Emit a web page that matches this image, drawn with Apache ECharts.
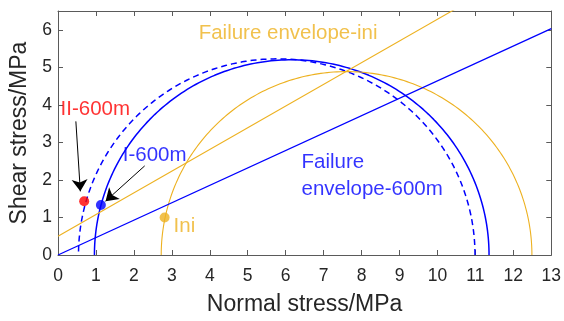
<!DOCTYPE html>
<html>
<head>
<meta charset="utf-8">
<script src="https://cdn.jsdelivr.net/npm/echarts@6/dist/echarts.min.js"></script>
<style>
  html, body { margin: 0; padding: 0; background: #fff; }
  #chart { width: 564px; height: 321px; }
</style>
</head>
<body>
<div id="chart"></div>
<script>
// Mohr circles: minor / major principal stress (MPa)
const circleNames = ['I-600m', 'II-600m', 'Ini'];
const sigma3 = [0.96, 0.54, 2.72];
const sigma1 = [11.36, 10.99, 12.49];

// Failure envelopes: tau = c + sigma * tan(phi)
const envelopeNames = ['Failure envelope-ini', 'Failure envelope-600m'];
const cohesion = [0.5, 0];
const tanPhi = [0.578, 0.464];

// Stress states (normal stress, shear stress)
const pointNames = ['II-600m', 'I-600m', 'Ini'];
const pointSigma = [0.69, 1.13, 2.81];
const pointTau = [1.43, 1.33, 1.0];

// Axis ranges
const xRange = [0, 13];
const yRange = [0, 6.5];

const FONT = '"Liberation Sans", Arial, sans-serif';
const BLUE = '#0000ff';
const ORANGE = '#EDB120';
const RED = '#ff0000';
const AXIS = '#5a5a5a';
const TEXT = '#262626';

// Upper half of a Mohr circle through (s3, 0) and (s1, 0)
function mohrArc(s3, s1) {
  const c = (s1 + s3) / 2, r = (s1 - s3) / 2;
  const pts = [];
  for (let d = 0; d <= 180; d += 1) {
    const a = d * Math.PI / 180;
    pts.push([c + r * Math.cos(a), r * Math.sin(a)]);
  }
  return pts;
}

function envelope(i) {
  return [[xRange[0], cohesion[i] + tanPhi[i] * xRange[0]],
          [xRange[1], cohesion[i] + tanPhi[i] * xRange[1]]];
}

const circleStyles = [
  { color: BLUE, width: 1.5, type: 'solid' },
  { color: BLUE, width: 1.5, type: [6, 4] },
  { color: ORANGE, width: 1.1, type: 'solid' }
];
const envelopeStyles = [
  { color: ORANGE, width: 1.1 },
  { color: BLUE, width: 1.3 }
];
const pointColors = [RED, BLUE, ORANGE];

const series = [];
circleNames.forEach((name, i) => {
  series.push({
    name: name, type: 'line', data: mohrArc(sigma3[i], sigma1[i]),
    showSymbol: false, clip: true, z: 2,
    lineStyle: circleStyles[i]
  });
});
envelopeNames.forEach((name, i) => {
  series.push({
    name: name, type: 'line', data: envelope(i),
    showSymbol: false, clip: true, z: 2,
    lineStyle: envelopeStyles[i]
  });
});

// Annotation arrows
series.push({
  type: 'lines', coordinateSystem: 'cartesian2d', z: 4,
  symbol: ['none', 'arrow'], symbolSize: 12,
  lineStyle: { color: '#000', width: 1, opacity: 1 },
  data: [
    { coords: [[0.471, 3.56], [0.589, 1.695]] },
    { coords: [[2.285, 2.374], [1.253, 1.435]] }
  ]
});

// Stress-state markers
series.push({
  type: 'scatter', z: 5, symbolSize: 10,
  data: pointNames.map((n, i) => ({
    name: n, value: [pointSigma[i], pointTau[i]],
    itemStyle: { color: pointColors[i] }
  }))
});

// Text annotations anchored at data positions
const notes = [
  { text: 'II-600m', at: [0.08, 3.86], color: RED },
  { text: 'I-600m', at: [1.72, 2.63], color: BLUE },
  { text: 'Ini', at: [3.06, 0.76], color: ORANGE },
  { text: 'Failure envelope-ini', at: [3.72, 5.88], color: ORANGE },
  { text: 'Failure\nenvelope-600m', at: [6.43, 2.09], color: BLUE }
];
series.push({
  type: 'scatter', z: 6, symbol: 'circle', symbolSize: 1, silent: true,
  itemStyle: { color: 'rgba(0,0,0,0)' },
  data: notes.map(n => ({
    value: n.at,
    label: {
      show: true, formatter: n.text, position: [0, 0],
      align: 'left', verticalAlign: 'middle',
      color: n.color, fontSize: 20.5, fontFamily: FONT, lineHeight: 26.5
    }
  }))
});

const tickLabel = {
  color: TEXT, fontSize: 17.5, fontFamily: FONT
};

const option = {
  animation: false,
  backgroundColor: '#fff',
  grid: { left: 56, right: 11, top: 11, bottom: 62, show: false },
  xAxis: [
    {
      type: 'value', min: xRange[0], max: xRange[1], interval: 1,
      name: 'Normal stress/MPa', nameLocation: 'middle', nameGap: 38,
      nameTextStyle: { color: TEXT, fontSize: 23, fontFamily: FONT },
      axisLine: { show: true, onZero: false, lineStyle: { color: AXIS, width: 1 } },
      axisTick: { show: true, inside: true, length: 5, lineStyle: { color: AXIS } },
      axisLabel: Object.assign({ margin: 12 }, tickLabel),
      splitLine: { show: false }
    },
    {
      type: 'value', position: 'top', min: xRange[0], max: xRange[1], interval: 1,
      axisLine: { show: true, onZero: false, lineStyle: { color: AXIS, width: 1 } },
      axisTick: { show: true, inside: true, length: 5, lineStyle: { color: AXIS } },
      axisLabel: { show: false }, splitLine: { show: false }
    }
  ],
  yAxis: [
    {
      type: 'value', min: yRange[0], max: yRange[1], interval: 1,
      name: 'Shear stress/MPa', nameLocation: 'middle', nameGap: 27,
      nameTextStyle: { color: TEXT, fontSize: 23, fontFamily: FONT },
      axisLine: { show: true, onZero: false, lineStyle: { color: AXIS, width: 1 } },
      axisTick: { show: true, inside: true, length: 5, lineStyle: { color: AXIS } },
      axisLabel: Object.assign({
        margin: 6,
        formatter: v => (Number.isInteger(v) ? String(v) : '')
      }, tickLabel),
      splitLine: { show: false }
    },
    {
      type: 'value', position: 'right', min: yRange[0], max: yRange[1], interval: 1,
      axisLine: { show: true, onZero: false, lineStyle: { color: AXIS, width: 1 } },
      axisTick: { show: true, inside: true, length: 5, lineStyle: { color: AXIS } },
      axisLabel: { show: false }, splitLine: { show: false }
    }
  ],
  series: series
};

const chart = echarts.init(document.getElementById('chart'), null, { renderer: 'canvas' });
chart.setOption(option);
</script>
</body>
</html>
